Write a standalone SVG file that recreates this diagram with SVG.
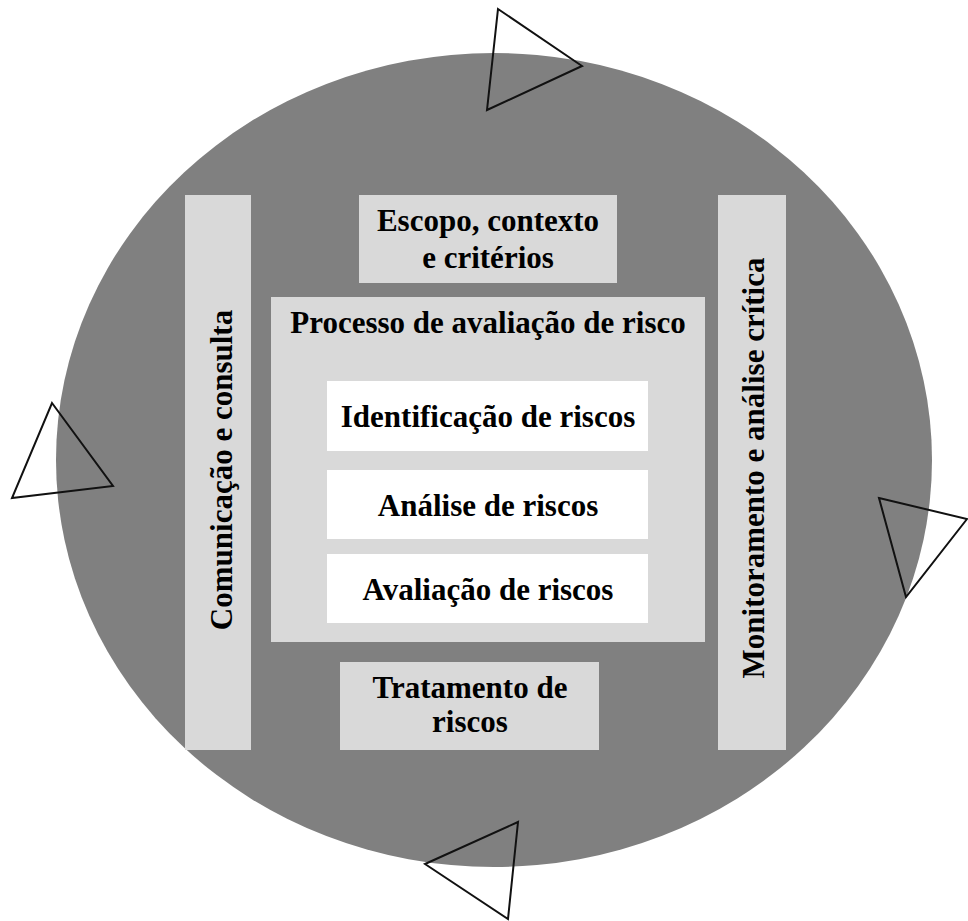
<svg xmlns="http://www.w3.org/2000/svg" width="968" height="921" viewBox="0 0 968 921">
  <style>
    .bg { fill: #ffffff; }
    .disc { fill: #808080; }
    .panel { fill: #d9d9d9; }
    .step { fill: #ffffff; }
    .lbl { font-family: "Liberation Serif", "Times New Roman", serif; font-weight: bold; font-size: 31px; fill: #000000; text-anchor: middle; }
    .arrow { fill: none; stroke: #111111; stroke-width: 2; stroke-linejoin: miter; }
  </style>

  <rect class="bg" x="0" y="0" width="968" height="921"/>

  <!-- cycle backdrop -->
  <ellipse class="disc" cx="494" cy="460" rx="438" ry="407"/>

  <!-- open triangles marking the cycle direction -->
  <g id="connectors">
    <polygon class="arrow" points="498,9 582,66 487,110"/>
    <polygon class="arrow" points="52,403 113,486 12,498"/>
    <polygon class="arrow" points="879,498 967,519 906,597"/>
    <polygon class="arrow" points="518,822 425,864 508,919"/>
  </g>

  <g id="comunicacao">
    <rect class="panel" x="185" y="195" width="66" height="555"/>
    <text class="lbl" transform="translate(232,470) rotate(-90)">Comunicação e consulta</text>
  </g>

  <g id="monitoramento">
    <rect class="panel" x="718" y="195" width="68" height="555"/>
    <text class="lbl" transform="translate(764,468) rotate(-90)">Monitoramento e análise crítica</text>
  </g>

  <g id="escopo">
    <rect class="panel" x="359" y="195" width="258" height="88"/>
    <text class="lbl" x="488" y="231">Escopo, contexto</text>
    <text class="lbl" x="488" y="268">e critérios</text>
  </g>

  <g id="processo">
    <rect class="panel" x="271" y="297" width="434" height="345"/>
    <text class="lbl" x="488" y="333">Processo de avaliação de risco</text>
  </g>

  <g id="identificacao">
    <rect class="step" x="327" y="381" width="321" height="70"/>
    <text class="lbl" x="488" y="427">Identificação de riscos</text>
  </g>

  <g id="analise">
    <rect class="step" x="327" y="470" width="321" height="69"/>
    <text class="lbl" x="488" y="516">Análise de riscos</text>
  </g>

  <g id="avaliacao">
    <rect class="step" x="327" y="554" width="321" height="69"/>
    <text class="lbl" x="488" y="600">Avaliação de riscos</text>
  </g>

  <g id="tratamento">
    <rect class="panel" x="340" y="662" width="259" height="88"/>
    <text class="lbl" x="470" y="698">Tratamento de</text>
    <text class="lbl" x="470" y="732">riscos</text>
  </g>
</svg>
